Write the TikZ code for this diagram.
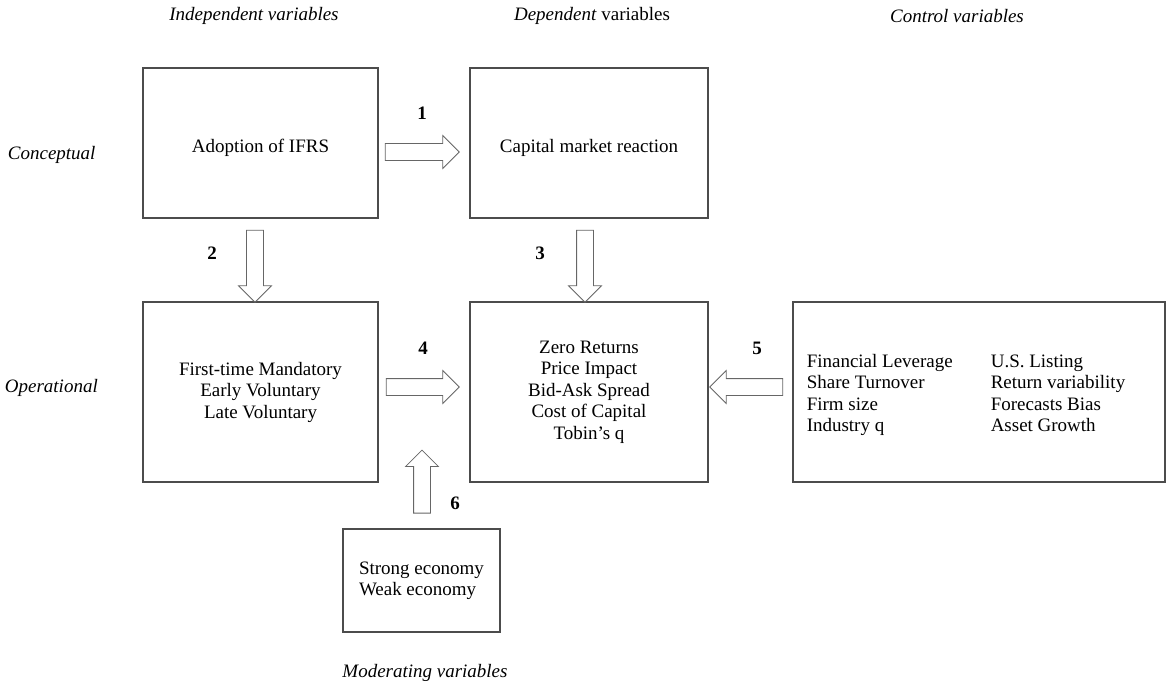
\documentclass[tikz,border=0pt]{standalone}
\usepackage{fontspec}
\setmainfont{Liberation Serif}
\usetikzlibrary{shapes.arrows,calc}

\begin{document}
\begin{tikzpicture}[x=0.025cm,y=-0.025cm,
  every node/.style={font=\fontsize{13.5}{15.3}\selectfont},
  box/.style={draw=black!70,line width=0.9pt,inner sep=0pt,align=center},
  fatarrow/.style={single arrow,draw=black!60,line width=0.6pt,inner sep=0.2cm,
    minimum width=0.8cm,single arrow head extend=0.2cm,single arrow head indent=0pt},
  num/.style={font=\fontsize{13.5}{15.3}\selectfont\bfseries}]
\useasboundingbox (0,0) rectangle (1167,684);

% column and row headings
\node (hind) at (254,16) {\textit{Independent variables}};
\node (hdep) at (592,16) {\textit{Dependent} variables};
\node (hctl) at (957,16) {\textit{Control variables}};
\node[anchor=west] (hcon) at (3,155) {\textit{Conceptual}};
\node[anchor=west] (hope) at (0,388) {\textit{Operational}};
\node (hmod) at (425,673) {\textit{Moderating variables}};

% boxes
\node[box,minimum width=5.875cm,minimum height=3.75cm] (adopt) at (260.5,143)
  {\raisebox{-0.125cm}[\height][\depth]{Adoption of IFRS}};
\node[box,minimum width=5.95cm,minimum height=3.75cm] (cmr) at (589,143)
  {\raisebox{-0.125cm}[\height][\depth]{Capital market reaction}};
\node[box,minimum width=5.875cm,minimum height=4.5cm] (oper) at (260.5,392)
  {First-time Mandatory\\Early Voluntary\\Late Voluntary};
\node[box,minimum width=5.95cm,minimum height=4.5cm] (zero) at (589,392)
  {Zero Returns\\Price Impact\\Bid-Ask Spread\\Cost of Capital\\Tobin’s q};
\node[box,minimum width=9.3cm,minimum height=4.5cm] (ctrl) at (979,392)
  {\raisebox{-0.075cm}[\height][\depth]{\begin{tabular}{@{}l@{\hspace{0.95cm}}l@{\hspace{0.65cm}}}
   Financial Leverage & U.S. Listing\\
   Share Turnover & Return variability\\
   Firm size & Forecasts Bias\\
   Industry q & Asset Growth
   \end{tabular}}};
\node[box,minimum width=3.925cm,minimum height=2.575cm] (moder) at (421.5,580.5)
  {\begin{tabular}{@{}l@{}}Strong economy\\Weak economy\end{tabular}};

% arrows
\node[fatarrow,minimum height=1.85cm] (a1) at ($(adopt.east)!.5!(cmr.west)+(-6,9)$) {};
\node[fatarrow,minimum height=1.8cm,shape border rotate=270] (a2) at ($(adopt.south)!.5!(oper.north)+(-5.5,2)$) {};
\node[fatarrow,minimum height=1.8cm,shape border rotate=270] (a3) at ($(cmr.south)!.5!(zero.north)+(-4,2)$) {};
\node[fatarrow,minimum height=1.825cm] (a4) at ($(oper.east)!.5!(zero.west)+(-5.5,-5)$) {};
\node[fatarrow,minimum height=1.825cm,shape border rotate=180] (a5) at ($(zero.east)!.5!(ctrl.west)+(0,-5)$) {};
\node[fatarrow,minimum height=1.575cm,shape border rotate=90] (a6) at ($(moder.north)+(0.5,-42.5)$) {};

% numbers
\node[num] (n1) at (422,113) {1};
\node[num] (n2) at (212,253) {2};
\node[num] (n3) at (540,253) {3};
\node[num] (n4) at (423,348) {4};
\node[num] (n5) at (757,348) {5};
\node[num] (n6) at (455,503) {6};
\end{tikzpicture}
\end{document}
